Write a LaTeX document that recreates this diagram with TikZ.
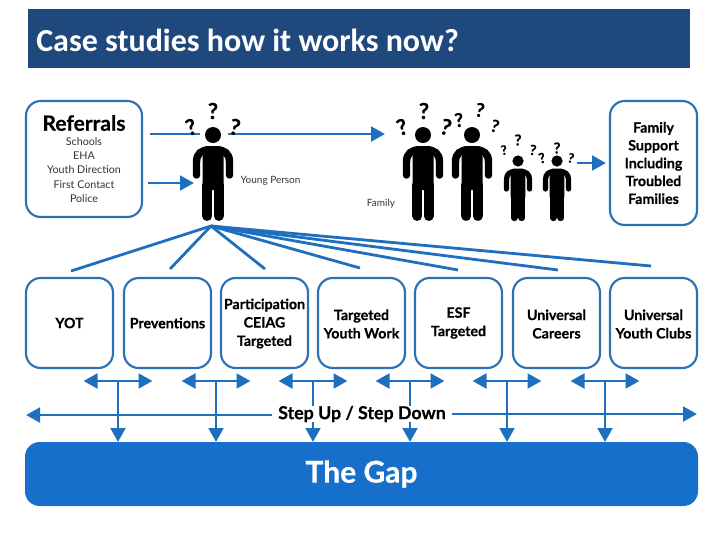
\documentclass[tikz,border=0pt]{standalone}
\usepackage{fontspec}
\setmainfont{Lato}[BoldFeatures={FakeBold=0.5}]
\newfontfamily\titlefont{Carlito}
\usetikzlibrary{arrows.meta,backgrounds}
\definecolor{titleblue}{HTML}{1F497D}
\definecolor{boxblue}{HTML}{2A72B5}
\definecolor{linkblue}{HTML}{1F6FBF}
\definecolor{gapblue}{HTML}{1670CB}
\newcommand{\fs}[1]{\pgfmathsetmacro\fsz{#1*0.75}\pgfmathsetmacro\fsl{#1*0.9}\fontsize{\fsz}{\fsl}\selectfont}
\newcommand{\personfig}[4]{% name, x, head y, scale
  \node[fill=black,circle,inner sep=0pt,minimum size=#4*12pt] (#1) at (#2,#3) {};
  \begin{scope}[shift={(#2,#3)},x=#4*0.75pt,y=-#4*0.75pt]
    \fill[black,rounded corners=#4*3pt] (-10.5,11) rectangle (10.5,55);
    \draw[black,line width=#4*5.6pt,line cap=round]
      (-16.5,40) -- (-16.5,27) .. controls (-16.5,18) and (-11,15) .. (-4,15);
    \draw[black,line width=#4*5.6pt,line cap=round]
      (16.5,40) -- (16.5,27) .. controls (16.5,18) and (11,15) .. (4,15);
    \draw[black,line width=#4*7.4pt,line cap=round] (-5.6,50) -- (-5.6,81);
    \draw[black,line width=#4*7.4pt,line cap=round] (5.6,50) -- (5.6,81);
  \end{scope}}
\tikzset{
  roundbox/.style={draw=boxblue,line width=1.6pt,rounded corners=11pt,fill=white,
    align=center,inner sep=0pt,font=\bfseries\fs{15}},
  link/.style={draw=linkblue,line width=2.2pt},
  linkhead/.style={link,-{Triangle[length=10.5pt,width=11pt]}},
  linkboth/.style={link,{Triangle[length=10.5pt,width=11pt]}-{Triangle[length=10.5pt,width=11pt]}},
  fan/.style={draw=linkblue,line width=2.1pt},
  ask/.style={inner sep=0pt,text=black},
}
\begin{document}
\begin{tikzpicture}[x=0.75pt,y=-0.75pt]
\useasboundingbox (0,0) rectangle (720,540);
% title
\node[fill=titleblue,minimum width=662*0.75pt,minimum height=59*0.75pt,inner sep=0pt,anchor=north west] (titlebar) at (28,9) {};
\node[anchor=west,text=white,inner sep=0pt,font=\titlefont\bfseries\fs{32}] (titletext) at (36,40) {Case studies how it works now?};

% top boxes
\node[roundbox,minimum width=116*0.75pt,minimum height=116*0.75pt] (ref) at (84,159) {};
\node[inner sep=0pt,font=\bfseries\fs{21}] (reft) at (84,123) {Referrals};
\node[inner sep=0pt,align=center,font=\fs{10.7},text=black!80] (refl) at (84,170) {Schools\\[1.2pt]EHA\\[1.2pt]Youth Direction\\[1.2pt]First Contact\\[1.2pt]Police};
\node[roundbox,minimum width=87*0.75pt,minimum height=124*0.75pt,font=\bfseries\fs{14.2}] (fam) at (653.5,163) {Family\\[0.6pt]Support\\[0.6pt]Including\\[0.6pt]Troubled\\[0.6pt]Families};

% people
\personfig{yp}{213}{135}{1}
\personfig{fa}{423}{135}{1}
\personfig{fb}{472}{135}{1}
\personfig{fc}{518}{161}{0.7}
\personfig{fd}{557}{161}{0.7}
\node[inner sep=0pt,font=\fs{10},text=black!80] (yplabel) at (270.5,181) {Young Person};
\node[inner sep=0pt,font=\fs{10},text=black!80] (famlabel) at (381,204) {Family};

% question marks
\node[ask,font=\bfseries\fs{22}] (q1) at (213,111) {?};
\node[ask,font=\bfseries\fs{22},rotate=18] (q2) at (191,127) {?};
\node[ask,font=\bfseries\fs{22},rotate=-12] (q3) at (235,127) {?};
\node[ask,font=\bfseries\fs{22}] (q4) at (424,111) {?};
\node[ask,font=\bfseries\fs{22},rotate=18] (q5) at (402,127) {?};
\node[ask,font=\bfseries\fs{22},rotate=-15] (q6) at (446,127) {?};
\node[ask,font=\bfseries\fs{19},rotate=8] (q7) at (459,120) {?};
\node[ask,font=\bfseries\fs{19},rotate=-10] (q8) at (480,110) {?};
\node[ask,font=\bfseries\fs{17},rotate=-15] (q9) at (495,126) {?};
\node[ask,font=\bfseries\fs{13},rotate=10] (q10) at (504,150) {?};
\node[ask,font=\bfseries\fs{15}] (q11) at (518,140) {?};
\node[ask,font=\bfseries\fs{14},rotate=-8] (q12) at (533,150) {?};
\node[ask,font=\bfseries\fs{14},rotate=15] (q13) at (542,158) {?};
\node[ask,font=\bfseries\fs{15}] (q14) at (557,148) {?};
\node[ask,font=\bfseries\fs{13},rotate=-12] (q15) at (571,158) {?};

% row boxes
\foreach \n/\cx/\cy/\t in {yot/69.5/323/YOT,prev/167.5/323/Preventions,part/264.5/323.5/{Participation\\[1pt]CEIAG\\[1pt]Targeted},twork/361.5/324/{Targeted\\[1pt]Youth Work},esf/458.5/323/{ESF\\[1pt]Targeted},ucar/556.5/324/{Universal\\[1pt]Careers},uclub/653.5/324/{Universal\\[1pt]Youth Clubs}}{
  \node[roundbox,minimum width=87*0.75pt,minimum height=90*0.75pt] (\n) at (\cx,323) {};
  \node[inner sep=0pt,align=center,font=\bfseries\fs{14.2}] (\n t) at (\cx,\cy) {\t};
}

% the gap
\node[fill=gapblue,rounded corners=11pt,minimum width=673*0.75pt,minimum height=64*0.75pt,inner sep=0pt,text=white,font=\bfseries\fs{30}] (gap) at (361.5,474) {The Gap};

% step up / step down
\node[font=\bfseries\fs{17.8},fill=white,inner xsep=4.5pt,inner ysep=0pt] (step) at (362,414) {Step Up / Step Down};
\coordinate (sl) at (26,415);
\coordinate (sr) at (697,414);

\begin{scope}[on background layer]
% fan
\coordinate (hub) at (211,226);
\foreach \i/\xx/\yy in {a/71/271,b/170/269,c/265/269,d/360/268,e/458/270,f/558/270,g/651/266}{
  \coordinate (t\i) at (\xx,\yy);
  \draw[fan] (hub) -- (t\i);
}
% top connectors
\coordinate (a1) at (150,134);
\coordinate (a2) at (200,134);
\coordinate (a3) at (228,134);
\coordinate (a4) at (385,134);
\coordinate (a5) at (148,183);
\coordinate (a6) at (194,183);
\coordinate (a7) at (577,163);
\coordinate (a8) at (606,163);
\draw[link] (a1) -- (a2);
\draw[linkhead] (a3) -- (a4);
\draw[linkhead] (a5) -- (a6);
\draw[linkhead] (a7) -- (a8);
% step connectors
\draw[linkhead] (step.west |- sl) -- (sl);
\draw[linkhead] (step.east |- sr) -- (sr);
\foreach \i/\cx in {1/118,2/216,3/313,4/410,5/507,6/605}{
  \coordinate (hl\i) at (\cx-34.5,381);
  \coordinate (hr\i) at (\cx+34.5,381);
  \coordinate (hm\i) at (\cx,381);
  \coordinate (hb\i) at (\cx,442);
  \draw[linkboth] (hl\i) -- (hr\i);
  \draw[linkhead] (hm\i) -- (hb\i);
}
\end{scope}
\end{tikzpicture}
\end{document}
